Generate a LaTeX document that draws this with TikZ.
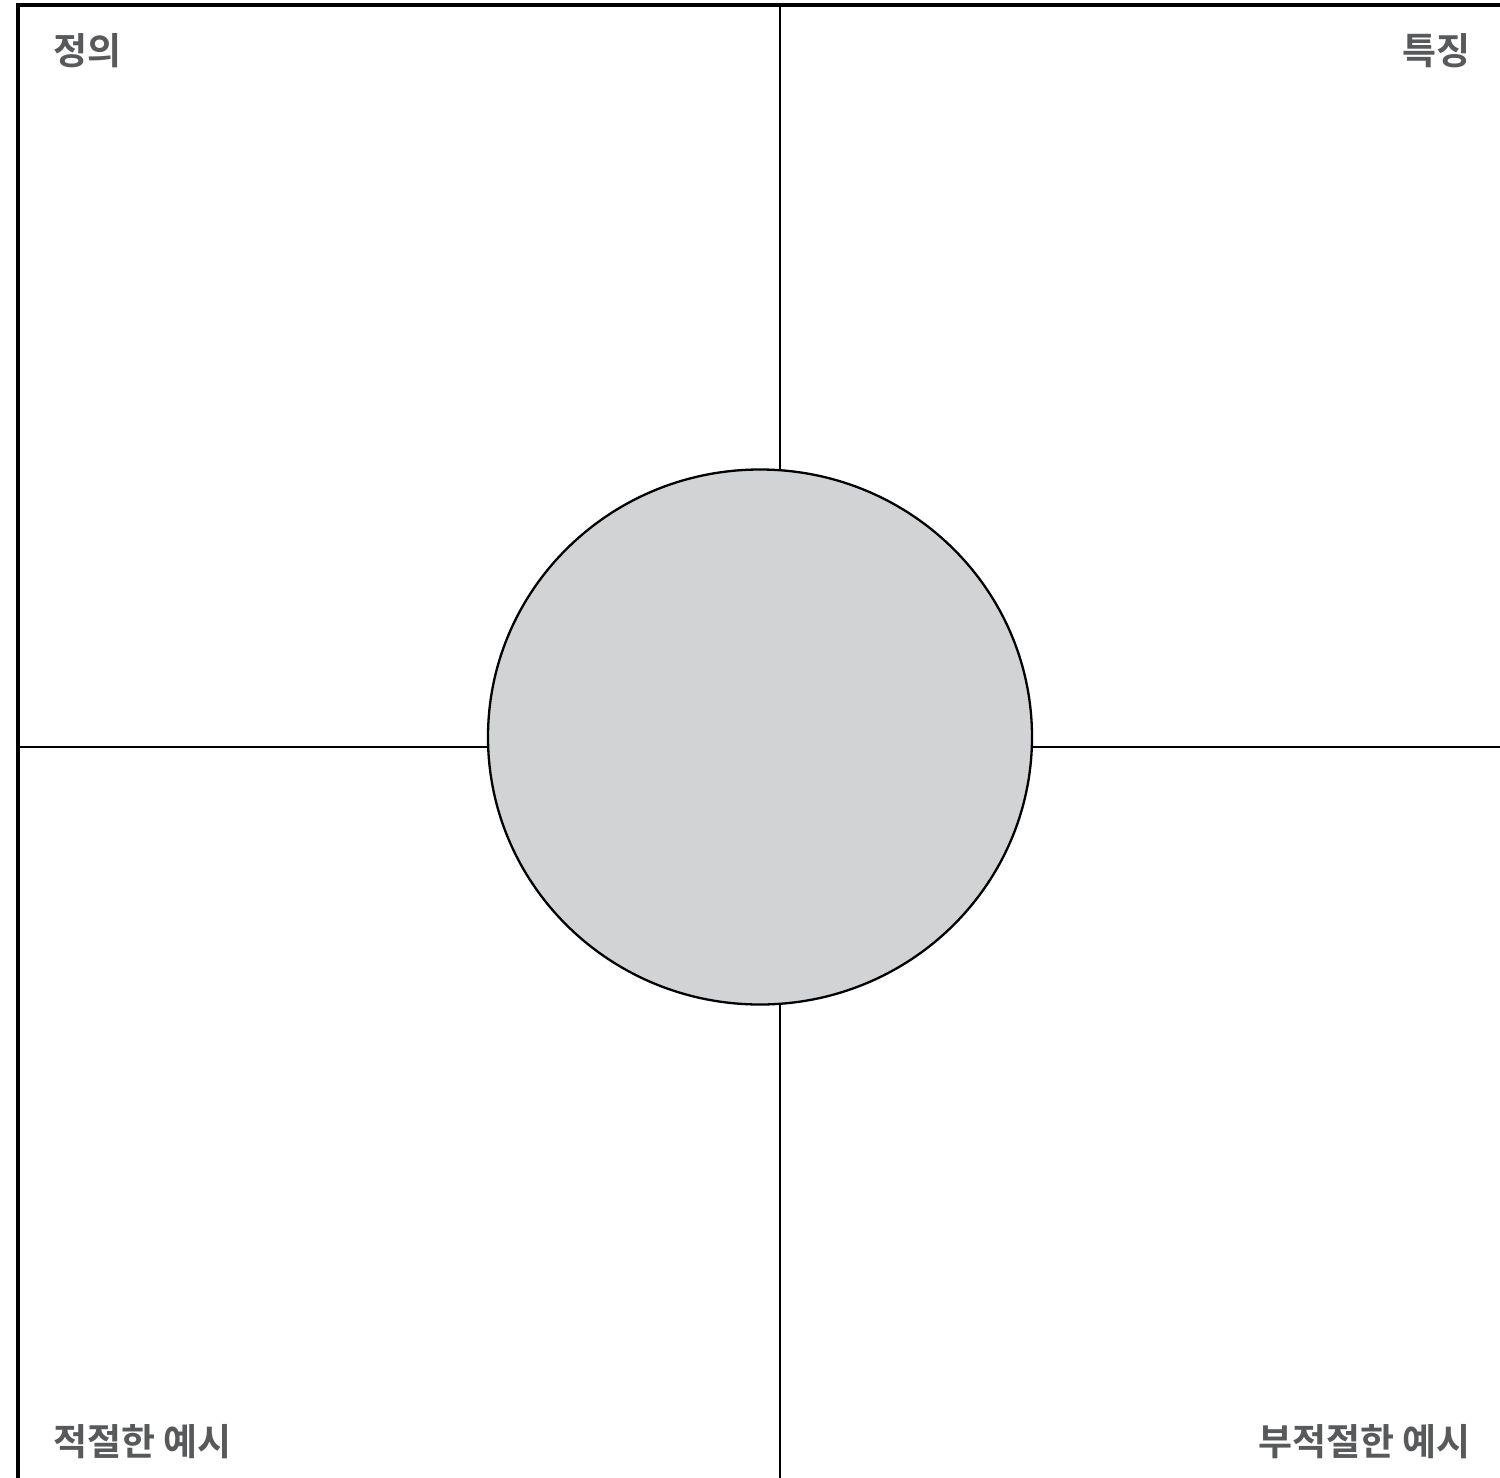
\documentclass[tikz,border=0pt]{standalone}
\usepackage{fontspec}
\newfontfamily\kr{Noto Sans CJK KR}[BoldFont={* Bold}]
\usetikzlibrary{shapes.geometric}
\definecolor{labelgray}{HTML}{58595B}
\definecolor{circfill}{HTML}{D1D3D4}
\tikzset{
  lbl/.style={inner sep=0pt, text=labelgray, font=\kr\bfseries\fontsize{37}{40}\selectfont},
  rule/.style={draw=black, line width=2.3pt},
  frame/.style={draw=black, line width=3.2pt},
  core/.style={ellipse, draw=black, line width=2.3pt, fill=circfill, minimum width=544pt, minimum height=535pt, inner sep=0pt}
}
\begin{document}
\begin{tikzpicture}[x=1pt,y=-1pt]
\useasboundingbox (0,0) rectangle (1500,1478);
\clip (0,0) rectangle (1500,1478);
\fill[white] (0,0) rectangle (1500,1478);
\draw[frame] (18,5) rectangle (1520,1500);
\coordinate (vt) at (780,5);
\coordinate (vb) at (780,1500);
\coordinate (hl) at (18,747);
\coordinate (hr) at (1520,747);
\draw[rule] (vt) -- (vb);
\draw[rule] (hl) -- (hr);
\node[core] (c) at (760,737) {};
\node[lbl, anchor=base west] (def) at (53,64) {정의};
\node[lbl, anchor=base east] (feat) at (1471,64) {특징};
\node[lbl, anchor=base west] (ex) at (53,1455) {적절한 예시};
\node[lbl, anchor=base east] (nonex) at (1471,1455) {부적절한 예시};
\end{tikzpicture}
\end{document}
